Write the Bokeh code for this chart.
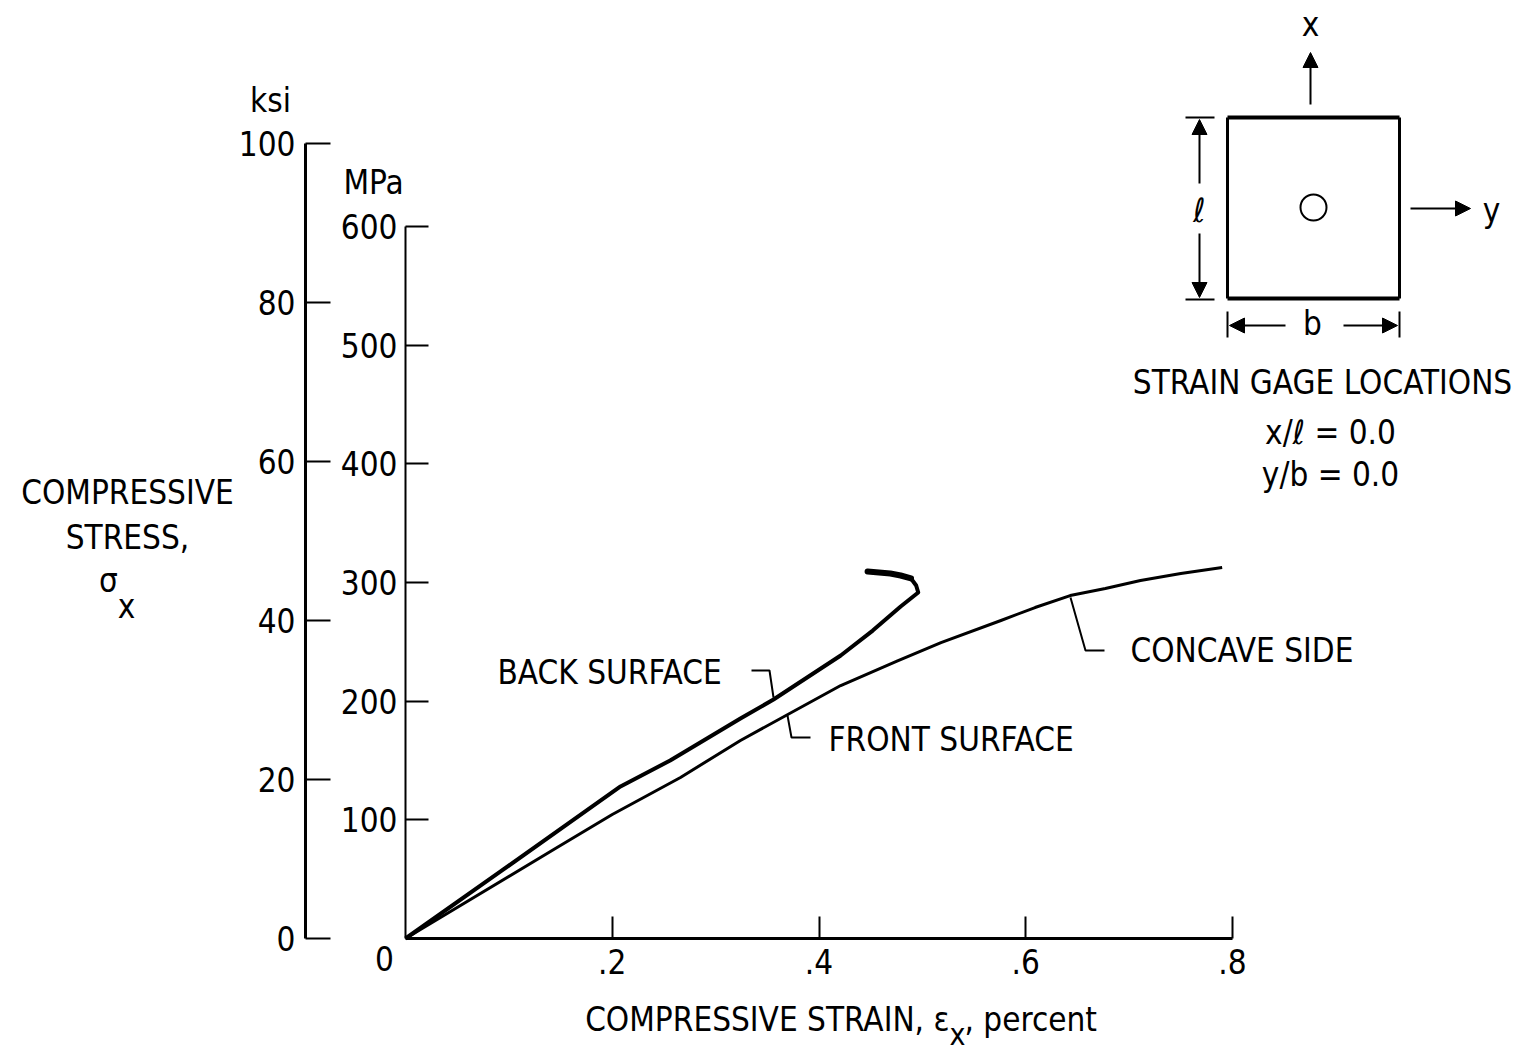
from bokeh.plotting import figure
from bokeh.models import (LinearAxis, Range1d, FixedTicker, Label, Arrow,
                          NormalHead)
from bokeh.embed import file_html
from bokeh.resources import INLINE

# ---------------- data ----------------
# strain in percent, stress in MPa
front_strain = [0.0, 0.145, 0.200, 0.266, 0.324, 0.421, 0.476, 0.518,
                0.576, 0.609, 0.643, 0.677, 0.711, 0.750, 0.790]
front_stress = [0.0, 75.8, 104.5, 135.7, 166.9, 213.2, 234.0, 249.4,
                268.0, 278.9, 289.0, 294.9, 301.7, 307.6, 312.6]

back_strain = [0.0, 0.092, 0.208, 0.256, 0.324, 0.356, 0.421, 0.452,
               0.479, 0.496, 0.494, 0.489, 0.479, 0.469, 0.447]
back_stress = [0.0, 56.5, 128.1, 150.0, 185.4, 201.4, 238.5, 259.5,
               279.8, 291.6, 297.5, 303.4, 305.9, 307.6, 309.3]

x_ticks = [0.2, 0.4, 0.6, 0.8]
x_tick_labels = [".2", ".4", ".6", ".8"]
mpa_ticks = [100, 200, 300, 400, 500, 600]
ksi_ticks = [0, 20, 40, 60, 80, 100]

FONT = "DejaVu Sans Condensed, Roboto, sans-serif"
FS = "33px"

# ---------------- page-pixel calibration ----------------
OFF = 0.0
X0PX, XSCALE = 405.0, (1232.0 - 405.0) / 0.8      # strain axis
Y0PX, YSCALE = 938.0, (938.0 - 226.0) / 600.0     # MPa axis
KSCALE = (938.0 - 143.0) / 100.0                  # ksi axis


def dx(px):
    return (px - X0PX) / XSCALE


def dy(py):
    return (Y0PX - py) / YSCALE


def dk(py):
    return (Y0PX - py) / KSCALE


W, H = 1524, 1056
p = figure(width=W, height=H, output_backend="svg", toolbar_location=None,
           x_range=Range1d(dx(OFF), dx(OFF + W)),
           y_range=Range1d(dy(OFF + H), dy(OFF)),
           x_axis_location=None, y_axis_location=None,
           min_border=0, title=None)
p.extra_y_ranges = {"ksi": Range1d(dk(OFF + H), dk(OFF))}
p.outline_line_color = None
p.background_fill_color = "white"
p.border_fill_color = "white"
p.xgrid.visible = False
p.ygrid.visible = False

common = dict(major_label_text_font=FONT, major_label_text_font_size=FS,
              major_label_text_color="black", axis_line_color="black",
              major_tick_line_color="black", minor_tick_in=0, minor_tick_out=0,
              major_tick_out=0)

xaxis = LinearAxis(fixed_location=0.0, bounds=(0, 0.8),
                   ticker=FixedTicker(ticks=x_ticks),
                   major_label_overrides=dict(zip(x_ticks, x_tick_labels)),
                   major_tick_in=22, axis_line_width=3, major_tick_line_width=2,
                   major_label_standoff=10, **common)
p.add_layout(xaxis, "below")

mpa_axis = LinearAxis(fixed_location=0.0, bounds=(0, 600),
                      ticker=FixedTicker(ticks=mpa_ticks),
                      major_tick_in=23, axis_line_width=2,
                      major_tick_line_width=2, major_label_standoff=8, **common)
p.add_layout(mpa_axis, "left")

ksi_axis = LinearAxis(fixed_location=dx(305), bounds=(0, 100),
                      y_range_name="ksi", ticker=FixedTicker(ticks=ksi_ticks),
                      major_tick_in=25, axis_line_width=3,
                      major_tick_line_width=2, major_label_standoff=10,
                      **common)
p.add_layout(ksi_axis, "left")

# ---------------- curves ----------------
p.line(front_strain, front_stress, line_color="black", line_width=3,
       line_join="round")
p.line(back_strain, back_stress, line_color="black", line_width=4,
       line_join="round")
p.line(back_strain[-4:], back_stress[-4:], line_color="black", line_width=6,
       line_cap="round", line_join="round")


def label(px, py, text, align="center", size=FS, baseline="middle"):
    p.add_layout(Label(x=dx(px), y=dy(py), text=text, text_font=FONT,
                       text_font_size=size, text_align=align,
                       text_baseline=baseline, text_color="black"))


def poly(pxs, pys, width=2):
    p.line([dx(v) for v in pxs], [dy(v) for v in pys], line_color="black",
           line_width=width)


def arrow(px0, py0, px1, py1):
    p.add_layout(Arrow(end=NormalHead(size=15, fill_color="black",
                                      line_color="black"),
                       x_start=dx(px0), y_start=dy(py0),
                       x_end=dx(px1), y_end=dy(py1),
                       line_color="black", line_width=2))


# origin label
label(384, 958, "0")

# axis titles
label(270, 100, "ksi")
label(373, 182, "MPa")
label(127, 492, "COMPRESSIVE")
label(127, 537, "STRESS,")
label(108, 580, "σ")
label(126, 606, "x")

label(949, 1019, "COMPRESSIVE STRAIN, ε", align="right")
label(957, 1034, "x", size="30px")
label(964, 1019, ", percent", align="left")

# curve labels and leaders
label(497, 672, "BACK SURFACE", align="left")
poly([751, 769, 773], [670, 670, 697])
label(828, 739, "FRONT SURFACE", align="left")
poly([787, 791, 810], [715, 737, 737])
label(1130, 650, "CONCAVE SIDE", align="left")
poly([1070, 1085, 1104], [597, 650, 650])

# ---------------- inset sketch ----------------
poly([1227, 1399], [117, 117], width=4)
poly([1227, 1399], [298, 298], width=4)
poly([1227, 1227], [117, 298], width=3)
poly([1399, 1399], [117, 298], width=3)
p.scatter([dx(1313)], [dy(207)], size=26, marker="circle",
          fill_color=None, line_color="black", line_width=2)

arrow(1310, 104, 1310, 52)
label(1310, 24, "x")
arrow(1410, 208, 1470, 208)
label(1491, 210, "y")

poly([1185, 1214], [117, 117])
poly([1185, 1214], [299, 299])
arrow(1199, 183, 1199, 119)
arrow(1199, 233, 1199, 297)
label(1199, 210, "ℓ")

poly([1227, 1227], [311, 337])
poly([1399, 1399], [311, 337])
arrow(1285, 325, 1229, 325)
arrow(1343, 325, 1397, 325)
label(1312, 323, "b")

label(1322, 382, "STRAIN GAGE LOCATIONS")
label(1330, 432, "x/ℓ = 0.0")
label(1330, 474, "y/b = 0.0")

open("out.html", "w").write(file_html(p, INLINE))
